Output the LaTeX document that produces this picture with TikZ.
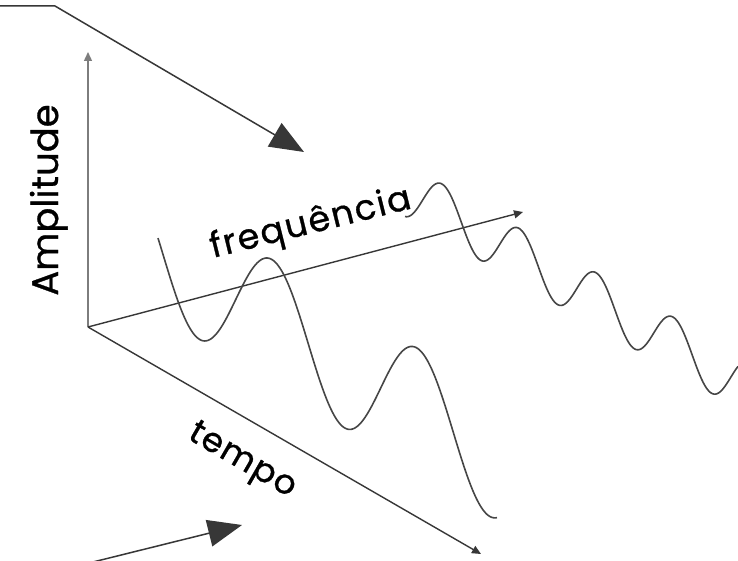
\documentclass[tikz,border=0pt]{standalone}
\usepackage{fontspec}
\setmainfont{Poppins}
\usetikzlibrary{arrows.meta}
\definecolor{axiscol}{RGB}{55,55,55}
\definecolor{ampcol}{RGB}{125,125,125}
\definecolor{wavecol}{RGB}{70,70,70}

\begin{document}
\begin{tikzpicture}[
    x=1pt, y=-1pt,
    axis/.style={
        draw=axiscol,
        line width=1.4pt,
        -{Triangle[length=9pt,width=8pt]}
    },
    pointer/.style={
        draw=axiscol,
        line width=1.5pt,
        -{Triangle[length=34pt,width=27pt]}
    },
    wave/.style={
        draw=wavecol,
        line width=1.6pt,
        samples=240,
        smooth
    },
    label/.style={
        inner sep=0pt,
        anchor=base,
        text=black
    }
]

\useasboundingbox[fill=white] (0,0) rectangle (738,561);

% Axes
\coordinate (origin) at (88,327);
\coordinate (ampTip) at (88,52);
\coordinate (freqTip) at (523,212);
\coordinate (timeTip) at (481,554);

\draw[axis, draw=ampcol] (origin) -- (ampTip);
\draw[axis] (origin) -- (freqTip);
\draw[axis] (origin) -- (timeTip);

% Axis labels
\node[label, rotate=90, font=\fontsize{37}{40}\selectfont\addfontfeatures{FakeBold=0.8}] (ampLabel) at (58,200) {Amplitude};
\node[label, rotate=14, font=\fontsize{35}{40}\selectfont\addfontfeatures{FakeBold=0.8,LetterSpace=5}] (freqLabel) at (313,233) {frequência};
\node[label, rotate=-30, font=\fontsize{34}{38}\selectfont\addfontfeatures{FakeBold=0.8,LetterSpace=4}] (timeLabel) at (238,468) {tempo};

% Pointers
\coordinate (topStart) at (0,6);
\coordinate (topBend) at (55,6);
\coordinate (topTip) at (304,152);
\draw[pointer] (topStart) -- (topBend) -- (topTip);

\coordinate (bottomStart) at (93,562);
\coordinate (bottomTip) at (242,525);
\draw[pointer] (bottomStart) -- (bottomTip);

% Waves
\draw[wave, domain=158:497] plot ({\x},{321.6+0.61*(\x-272)-62*cos((\x-272)/145*360)});
\draw[wave, domain=405:738] plot ({\x},{211+0.576*(\x-442)-27*cos((\x-442)/77*360)});

\end{tikzpicture}
\end{document}
